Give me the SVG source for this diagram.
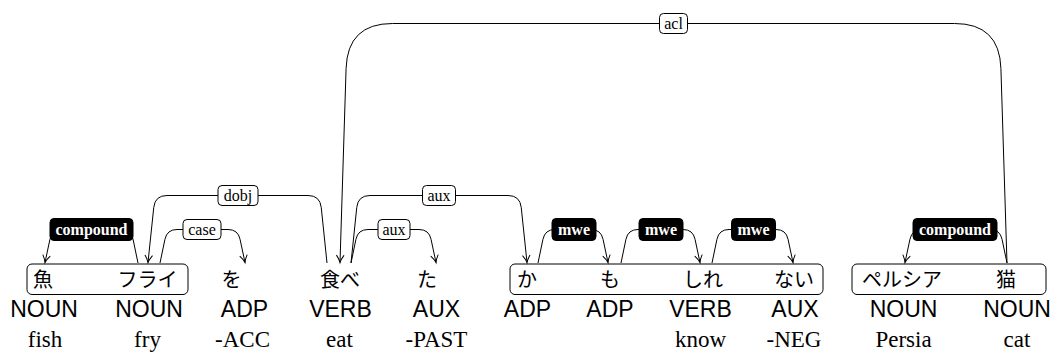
<svg xmlns="http://www.w3.org/2000/svg" width="1054" height="352" viewBox="0 0 1054 352">
  <style>
    .word { font-family: 'Noto Sans CJK JP', sans-serif; font-size: 20px; fill: #000; text-anchor: middle; }
    .pos { font-family: 'Liberation Sans', Arial, sans-serif; font-size: 23px; fill: #000; text-anchor: middle; }
    .gloss { font-family: 'Liberation Serif', 'Times New Roman', serif; font-size: 23px; fill: #000; text-anchor: middle; }
    .chunk { fill: none; stroke: #000; stroke-width: 1; }
    .edge { fill: none; stroke: #000; stroke-width: 1; marker-end: url(#tip); }
    .lbl { fill: #fff; stroke: #000; stroke-width: 1; }
    .lbl-dark { fill: #000; stroke: #000; stroke-width: 1; }
    .lbl-text { font-family: 'Liberation Serif', 'Times New Roman', serif; font-size: 16px; fill: #000; text-anchor: middle; }
    .lbl-text-dark { font-family: 'Liberation Serif', 'Times New Roman', serif; font-size: 16px; font-weight: bold; fill: #fff; text-anchor: middle; }
  </style>
  <defs>
    <marker id="tip" markerUnits="userSpaceOnUse" markerWidth="10" markerHeight="10" refX="0" refY="0" orient="auto" overflow="visible">
      <path d="M -7 -3.6 Q -3 -0.8 0 0 Q -3 0.8 -7 3.6" fill="none" stroke="#000" stroke-width="1" stroke-linecap="round"/>
    </marker>
  </defs>

  <rect width="1054" height="352" fill="#fff"/>

  <!-- chunk boxes around the word rows -->
  <g id="chunks">
    <rect class="chunk" x="27" y="264" width="161" height="30.5" rx="5"/>
    <rect class="chunk" x="510" y="264" width="313" height="30.5" rx="5"/>
    <rect class="chunk" x="852" y="264" width="194" height="30.5" rx="5"/>
  </g>

  <!-- tokens: surface form, POS tag, gloss -->
  <g id="tok-sakana">
    <text class="word" x="43" y="287">魚</text>
    <text class="pos" x="44" y="317">NOUN</text>
    <text class="gloss" x="45" y="347">fish</text>
  </g>
  <g id="tok-furai">
    <text class="word" x="147.5" y="287">フライ</text>
    <text class="pos" x="149" y="317">NOUN</text>
    <text class="gloss" x="147.5" y="347">fry</text>
  </g>
  <g id="tok-wo">
    <text class="word" x="231.5" y="287">を</text>
    <text class="pos" x="244.5" y="317">ADP</text>
    <text class="gloss" x="242.5" y="347">-ACC</text>
  </g>
  <g id="tok-tabe">
    <text class="word" x="340" y="287">食べ</text>
    <text class="pos" x="340.5" y="317">VERB</text>
    <text class="gloss" x="339.5" y="347">eat</text>
  </g>
  <g id="tok-ta">
    <text class="word" x="427" y="287">た</text>
    <text class="pos" x="436.5" y="317">AUX</text>
    <text class="gloss" x="436.5" y="347">-PAST</text>
  </g>
  <g id="tok-ka">
    <text class="word" x="527" y="287">か</text>
    <text class="pos" x="527.5" y="317">ADP</text>
  </g>
  <g id="tok-mo">
    <text class="word" x="610" y="287">も</text>
    <text class="pos" x="610" y="317">ADP</text>
  </g>
  <g id="tok-shire">
    <text class="word" x="703" y="287">しれ</text>
    <text class="pos" x="700.5" y="317">VERB</text>
    <text class="gloss" x="700.5" y="347">know</text>
  </g>
  <g id="tok-nai">
    <text class="word" x="794" y="287">ない</text>
    <text class="pos" x="795" y="317">AUX</text>
    <text class="gloss" x="794" y="347">-NEG</text>
  </g>
  <g id="tok-perushia">
    <text class="word" x="902" y="287">ペルシア</text>
    <text class="pos" x="903.5" y="317">NOUN</text>
    <text class="gloss" x="903.5" y="347">Persia</text>
  </g>
  <g id="tok-neko">
    <text class="word" x="1006" y="287">猫</text>
    <text class="pos" x="1017" y="317">NOUN</text>
    <text class="gloss" x="1017" y="347">cat</text>
  </g>

  <!-- dependency arcs, drawn head to dependent, label on top -->
  <g id="connectors">
    <g id="e-compound-1">
      <path class="edge" d="M 138 263 L 133.05 239.29 Q 131 229.5 121 229.5 L 62 229.5 Q 52 229.5 49.95 239.29 L 45 262.5"/>
      <rect class="lbl-dark" x="50" y="218.5" width="83" height="22" rx="4"/>
      <text class="lbl-text-dark" x="91.5" y="234.5">compound</text>
    </g>
    <g id="e-case">
      <path class="edge" d="M 160 263 L 164.95 239.29 Q 167 229.5 177 229.5 L 228 229.5 Q 238 229.5 240.05 239.29 L 245 262.5"/>
      <rect class="lbl" x="183" y="219.5" width="38" height="20" rx="4"/>
      <text class="lbl-text" x="202" y="234.5">case</text>
    </g>
    <g id="e-dobj">
      <path class="edge" d="M 327 263 L 321.24 207.44 Q 320 195.5 308 195.5 L 167 195.5 Q 155 195.5 153.76 207.44 L 148 262.5"/>
      <rect class="lbl" x="218" y="185.5" width="40" height="20" rx="4"/>
      <text class="lbl-text" x="238" y="200.5">dobj</text>
    </g>
    <g id="e-aux-1">
      <path class="edge" d="M 351 263 L 355.95 239.29 Q 358 229.5 368 229.5 L 419 229.5 Q 429 229.5 431.05 239.29 L 436 262.5"/>
      <rect class="lbl" x="378" y="219.5" width="32" height="20" rx="4"/>
      <text class="lbl-text" x="394" y="234.5">aux</text>
    </g>
    <g id="e-aux-2">
      <path class="edge" d="M 351 263 L 356.76 207.44 Q 358 195.5 370 195.5 L 508 195.5 Q 520 195.5 521.24 207.44 L 527 262.5"/>
      <rect class="lbl" x="422.5" y="185.5" width="33" height="20" rx="4"/>
      <text class="lbl-text" x="439" y="200.5">aux</text>
    </g>
    <g id="e-acl">
      <path class="edge" d="M 1007 263 L 1000.91 68.48 Q 999.5 23.5 954.5 23.5 L 392.5 23.5 Q 347.5 23.5 346.09 68.48 L 340 262.5"/>
      <rect class="lbl" x="659.5" y="13.5" width="28" height="20" rx="4"/>
      <text class="lbl-text" x="673.5" y="28.5">acl</text>
    </g>
    <g id="e-mwe-1">
      <path class="edge" d="M 538 263 L 542.95 239.29 Q 545 229.5 555 229.5 L 591 229.5 Q 601 229.5 603.05 239.29 L 608 262.5"/>
      <rect class="lbl-dark" x="552" y="218.5" width="44" height="22" rx="4"/>
      <text class="lbl-text-dark" x="574" y="234.5">mwe</text>
    </g>
    <g id="e-mwe-2">
      <path class="edge" d="M 621 263 L 625.95 239.29 Q 628 229.5 638 229.5 L 683 229.5 Q 693 229.5 695.05 239.29 L 700 262.5"/>
      <rect class="lbl-dark" x="639" y="218.5" width="44" height="22" rx="4"/>
      <text class="lbl-text-dark" x="661" y="234.5">mwe</text>
    </g>
    <g id="e-mwe-3">
      <path class="edge" d="M 712 263 L 716.95 239.29 Q 719 229.5 729 229.5 L 776 229.5 Q 786 229.5 788.05 239.29 L 793 262.5"/>
      <rect class="lbl-dark" x="731.5" y="218.5" width="44" height="22" rx="4"/>
      <text class="lbl-text-dark" x="753.5" y="234.5">mwe</text>
    </g>
    <g id="e-compound-2">
      <path class="edge" d="M 1007 263 L 1002.05 239.29 Q 1000 229.5 990 229.5 L 922 229.5 Q 912 229.5 909.95 239.29 L 905 262.5"/>
      <rect class="lbl-dark" x="913" y="218.5" width="84" height="22" rx="4"/>
      <text class="lbl-text-dark" x="955" y="234.5">compound</text>
    </g>
  </g>
</svg>
